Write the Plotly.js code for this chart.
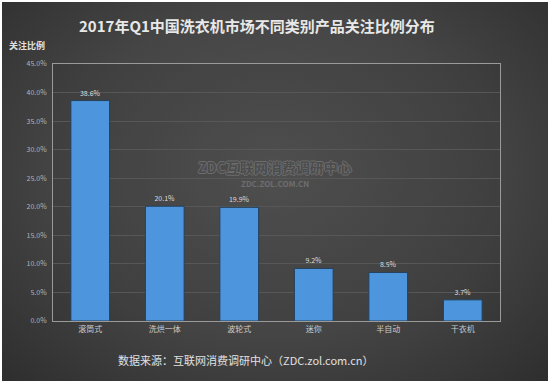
<!DOCTYPE html>
<html>
<head>
<meta charset="utf-8">
<script src="https://cdn.plot.ly/plotly-3.0.1.min.js"></script>
<style>
html,body{margin:0;padding:0;background:#fff;}
#wrap{position:absolute;left:2px;top:2px;width:546px;height:379px;
background:radial-gradient(ellipse at 50% 45%, #565656 0%, #454545 55%, #2e2e2e 100%);}
#chart{position:absolute;left:-2px;top:-2px;width:550px;height:383px;}
</style>
</head>
<body>
<div id="wrap"><div id="chart"></div></div>
<script>
var categories = ['滚筒式','洗烘一体','波轮式','迷你','半自动','干衣机'];
var values = [38.6, 20.1, 19.9, 9.2, 8.5, 3.7];
var tickVals = [0,5,10,15,20,25,30,35,40,45];
var tickText = tickVals.map(function(v){return v.toFixed(1)+'%';});
var labels = values.map(function(v){return v.toFixed(1)+'%';});

var font = '"Noto Sans CJK SC", "Noto Sans", sans-serif';
var trace = {
  type:'bar', x:categories, y:values,
  text:labels, textposition:'outside', cliponaxis:false,
  textfont:{family:font, size:7, color:'#dddddd'},
  marker:{color:'#4d96dd', line:{color:'#24405c', width:1}},
  width:0.52, hoverinfo:'none'
};
var layout = {
  width:550, height:383,
  margin:{l:53, r:50, t:64, b:62},
  paper_bgcolor:'rgba(0,0,0,0)',
  plot_bgcolor:'rgba(40,40,40,0.15)',
  showlegend:false,
  font:{family:font, color:'#cccccc'},
  xaxis:{type:'category', showgrid:false, zeroline:false,
    showline:true, mirror:true, linecolor:'#9a9a9a', linewidth:1,
    tickfont:{size:8, color:'#cccccc'}, ticks:'', fixedrange:true},
  yaxis:{range:[0,45], tickvals:tickVals, ticktext:tickText,
    showgrid:true, gridcolor:'#575757', gridwidth:1, zeroline:false,
    showline:true, mirror:true, linecolor:'#9a9a9a', linewidth:1,
    tickfont:{size:7, color:'#b4b4b4'}, ticks:'', ticklabelstandoff:4, fixedrange:true},
  annotations:[
    {text:'<b>2017年Q1中国洗衣机市场不同类别产品关注比例分布</b>', xref:'paper', yref:'paper',
     x:(257-53)/447, y:1+(64-25)/257, xanchor:'center', yanchor:'middle', showarrow:false,
     font:{family:font, size:15, color:'#e8e8e8'}},
    {text:'<b>关注比例</b>', xref:'paper', yref:'paper',
     x:(27-53)/447, y:1+(64-45)/257, xanchor:'center', yanchor:'middle', showarrow:false,
     font:{family:font, size:9, color:'#e0e0e0'}},
    {text:'<b>ZDC互联网消费调研中心</b>', xref:'paper', yref:'paper',
     x:(275-53)/447, y:1-(167-64)/257, xanchor:'center', yanchor:'middle', showarrow:false,
     font:{family:font, size:14, color:'#4c4c4c',
       shadow:'-1px 0 #6c6c6c, 1px 0 #6c6c6c, 0 -1px #6c6c6c, 0 1px #6c6c6c'}},
    {text:'<b>ZDC.ZOL.COM.CN</b>', xref:'paper', yref:'paper',
     x:(275-53)/447, y:1-(183-64)/257, xanchor:'center', yanchor:'middle', showarrow:false,
     font:{family:font, size:8, color:'#6e6e6e'}},
    {text:'数据来源：互联网消费调研中心（ZDC.zol.com.cn）', xref:'paper', yref:'paper',
     x:(246-53)/447, y:-(360-321)/257, xanchor:'center', yanchor:'middle', showarrow:false,
     font:{family:font, size:11, color:'#e0e0e0'}}
  ]
};
Plotly.newPlot('chart', [trace], layout, {displayModeBar:false, staticPlot:true});
</script>
</body>
</html>
